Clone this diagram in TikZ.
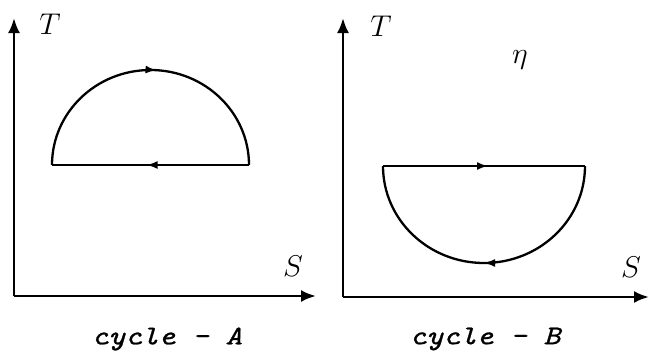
\RequirePackage{fix-cm}
\documentclass[tikz,border=0pt]{standalone}
\usepackage{fontspec}
\newfontfamily\capfont{lmmono10-italic.otf}[FakeBold=0.9]
\usetikzlibrary{arrows.meta,decorations.markings}
\begin{document}
\begin{tikzpicture}[x=1pt,y=-1pt,
  axis/.style={line width=2.6pt,-{Latex[length=15pt,width=12pt]}},
  curve/.style={line width=2.3pt},
  midarrow/.style={postaction={decorate},decoration={markings,mark=at position #1 with {\arrow{Latex[length=11pt,width=8pt]}}}},
  lbl/.style={inner sep=0pt,font=\fontsize{30}{32}\selectfont},
  captxt/.style={inner sep=0pt,font=\capfont\fontsize{27}{29}\selectfont}]
\useasboundingbox (0,0) rectangle (649,356);
% ---- left panel
\coordinate (oA) at (14,296);
\coordinate (yA) at (14,18);
\coordinate (xA) at (316,296);
\draw[axis] (oA) -- (yA);
\draw[axis] (oA) -- (xA);
\node[lbl] (TA) at (50,24) {$T$};
\node[lbl] (SA) at (293,266) {$S$};
\coordinate (aL) at (52,165);
\coordinate (aR) at (249,165);
\draw[curve,midarrow=0.52] (aL) arc[start angle=180,end angle=0,x radius=98.5pt,y radius=95pt];
\draw[curve,midarrow=0.52] (aR) -- (aL);
\node[captxt] (cA) at (167,339) {\scalebox{1.18}[1]{cycle - A}};
% ---- right panel
\coordinate (oB) at (343,297);
\coordinate (yB) at (343,18);
\coordinate (xB) at (649,297);
\draw[axis] (oB) -- (yB);
\draw[axis] (oB) -- (xB);
\node[lbl] (TB) at (381,26) {$T$};
\node[lbl] (SB) at (631,267) {$S$};
\node[lbl] (eta) at (520,60) {$\eta$};
\coordinate (bL) at (383,166);
\coordinate (bR) at (585,166);
\draw[curve,midarrow=0.52] (bL) -- (bR);
\draw[curve,midarrow=0.5] (bR) arc[start angle=0,end angle=-180,x radius=101pt,y radius=97pt];
\node[captxt] (cB) at (485,339) {\scalebox{1.18}[1]{cycle - B}};
\end{tikzpicture}
\end{document}
